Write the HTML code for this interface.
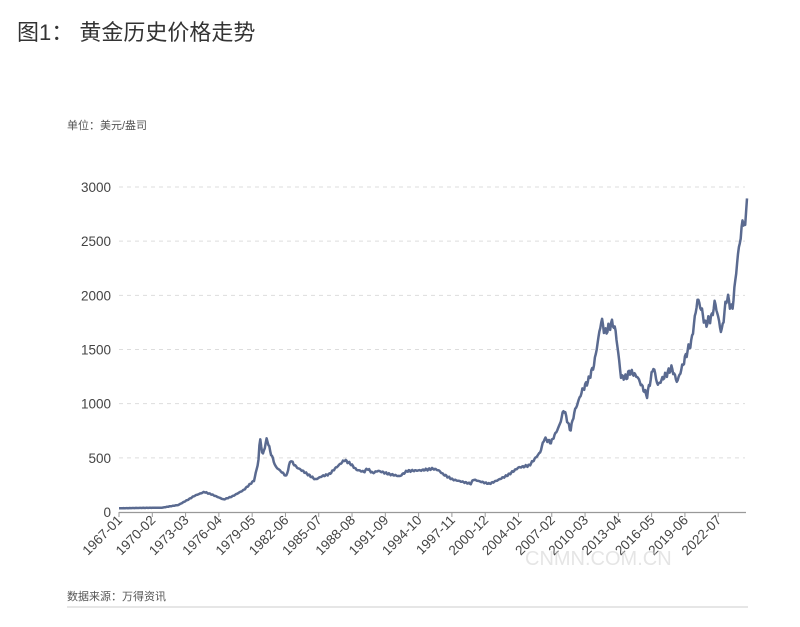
<!DOCTYPE html>
<html><head><meta charset="utf-8"><style>
body{margin:0;background:#fff;width:800px;height:622px;overflow:hidden;font-family:"Liberation Sans","Noto Sans CJK SC",sans-serif}
</style></head><body>
<svg id="s" width="800" height="622" xmlns="http://www.w3.org/2000/svg" font-family="Liberation Sans, Noto Sans CJK SC, sans-serif">
<text x="17" y="40" font-size="22" fill="#333">图1：  黄金历史价格走势</text>
<text x="67" y="129" font-size="11" fill="#555">单位：美元/盎司</text>
<text x="67" y="600" font-size="11" fill="#555">数据来源：万得资讯</text>
<line x1="67" y1="607" x2="748" y2="607" stroke="#e6e6e6" stroke-width="2"/>
<g id="g"></g>
</svg>
<script>
var g=document.getElementById('g'),h='';
function Y(v){return 512-v*325/3000}
for(var v=500;v<=3000;v+=500){h+='<line x1="119" x2="745" y1="'+Y(v)+'" y2="'+Y(v)+'" stroke="#ddd" stroke-dasharray="4,4"/>';}
for(var v=0;v<=3000;v+=500){h+='<text x="111" y="'+(Y(v)+5)+'" font-size="13.5" fill="#444" text-anchor="end">'+v+'</text>';}
h+='<line x1="119" x2="746" y1="512.5" y2="512.5" stroke="#999" stroke-width="1.2"/>';
var pm=628/698;
for(var i=0;i<19;i++){var x=119+i*37*pm;var yr=1967+Math.floor(i*37/12),mo=(i*37)%12+1;
h+='<line x1="'+x+'" x2="'+x+'" y1="512" y2="517" stroke="#999"/>';
h+='<text transform="translate('+(x+4)+',521) rotate(-45)" font-size="13.5" fill="#444" text-anchor="end">'+yr+'-'+(mo<10?'0':'')+mo+'</text>';}
var k=[[1967,35],[1971,40],[1972.5,65],[1973.5,120],[1974,150],[1974.9,185],[1975.5,165],[1976.7,115],[1977.5,145],[1978.5,200],[1979.5,290],[1979.9,460],[1980.05,690],[1980.3,520],[1980.7,680],[1981,560],[1981.5,420],[1982.5,330],[1982.9,480],[1983.2,440],[1983.5,410],[1984,380],[1985.2,300],[1985.8,330],[1986.5,350],[1987,400],[1987.9,480],[1988.5,440],[1989,390],[1989.7,370],[1990,400],[1990.5,360],[1991,380],[1992,350],[1993,330],[1993.7,380],[1994,380],[1995,385],[1996.1,400],[1996.6,385],[1997,350],[1997.9,300],[1999.6,260],[1999.8,300],[2000.5,280],[2001.3,260],[2002,290],[2003,340],[2004,410],[2005,430],[2006,550],[2006.4,680],[2007,640],[2007.8,800],[2008.2,950],[2008.8,750],[2009.2,930],[2009.9,1120],[2010.5,1220],[2011,1360],[2011.7,1780],[2012,1650],[2012.7,1750],[2013,1670],[2013.5,1250],[2014,1240],[2014.3,1300],[2015,1250],[2015.9,1070],[2016.5,1340],[2016.9,1170],[2017.5,1250],[2018.2,1330],[2018.7,1200],[2019,1290],[2019.7,1500],[2020,1560],[2020.6,1970],[2021,1850],[2021.3,1730],[2021.9,1800],[2022.2,1940],[2022.8,1650],[2023.3,1990],[2023.8,1870],[2024,2050],[2024.3,2350],[2024.8,2700],[2025,2650],[2025.17,2900]];
var d='',j=0;
for(var m=0;m<=698;m++){var t=1967+m/12;while(j<k.length-2&&k[j+1][0]<t)j++;
var a=k[j],b=k[j+1],f=Math.min(1,Math.max(0,(t-a[0])/(b[0]-a[0])));var v=a[1]+(b[1]-a[1])*f;
if(m<695)v*=1+0.015*Math.sin(m*1.7)+0.01*Math.sin(m*4.3);
d+=(m?'L':'M')+(119+m*pm).toFixed(1)+','+Y(v).toFixed(1);}
h+='<path d="'+d+'" fill="none" stroke="#5a6a90" stroke-width="2.5" stroke-linejoin="round"/>';
h+='<text x="525" y="565" font-size="20" fill="#ccc" opacity="0.5">CNMN.COM.CN</text>';
g.innerHTML=h;
</script>
</body></html>
